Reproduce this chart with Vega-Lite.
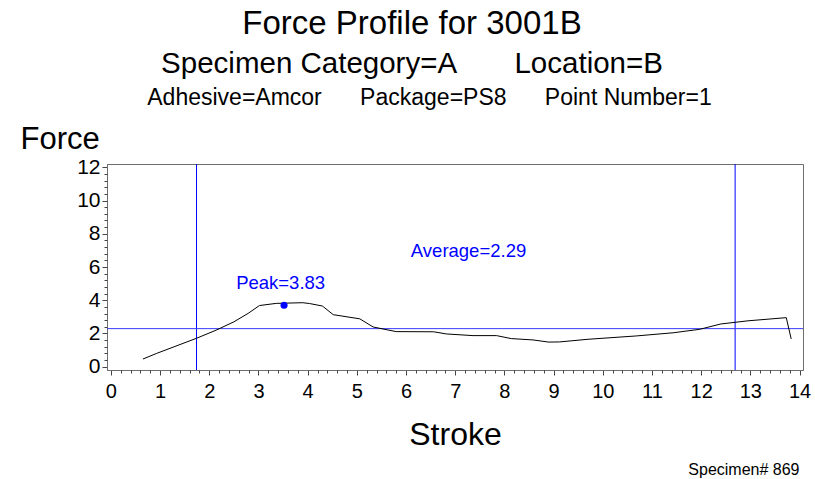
{
  "$schema": "https://vega.github.io/schema/vega-lite/v6.json",
  "width": 696,
  "height": 206,
  "autosize": {"type": "none"},
  "padding": {"left": 107, "top": 164, "right": 12, "bottom": 109},
  "background": "white",
  "config": {
    "font": "Liberation Sans",
    "view": {"stroke": "#6e6e6e", "strokeWidth": 1},
    "axis": {"grid": false, "labelOverlap": false, "labelFlush": false}
  },
  "title": {
    "text": "Force Profile for 3001B",
    "subtitle": "Specimen Category=A\u00a0\u00a0\u00a0\u00a0\u00a0\u00a0\u00a0Location=B",
    "fontSize": 33,
    "fontWeight": "normal",
    "color": "black",
    "subtitleFontSize": 29.5,
    "subtitleColor": "black",
    "subtitlePadding": 9,
    "anchor": "middle",
    "dx": -43,
    "offset": 8
  },
  "datasets": {
    "curve": [
      {"stroke": 0.65, "force": 0.46},
      {"stroke": 0.93, "force": 0.80},
      {"stroke": 1.74, "force": 1.71},
      {"stroke": 2.14, "force": 2.20},
      {"stroke": 2.50, "force": 2.70},
      {"stroke": 2.79, "force": 3.21},
      {"stroke": 3.02, "force": 3.68},
      {"stroke": 3.36, "force": 3.81},
      {"stroke": 3.90, "force": 3.85},
      {"stroke": 4.04, "force": 3.80},
      {"stroke": 4.30, "force": 3.65},
      {"stroke": 4.52, "force": 3.13},
      {"stroke": 5.06, "force": 2.88},
      {"stroke": 5.33, "force": 2.39},
      {"stroke": 5.80, "force": 2.11},
      {"stroke": 6.56, "force": 2.10},
      {"stroke": 6.82, "force": 1.97},
      {"stroke": 7.36, "force": 1.87},
      {"stroke": 7.84, "force": 1.87},
      {"stroke": 8.14, "force": 1.69},
      {"stroke": 8.58, "force": 1.61},
      {"stroke": 8.90, "force": 1.48},
      {"stroke": 9.12, "force": 1.49},
      {"stroke": 9.70, "force": 1.65},
      {"stroke": 10.68, "force": 1.85},
      {"stroke": 11.43, "force": 2.04},
      {"stroke": 11.97, "force": 2.25},
      {"stroke": 12.40, "force": 2.57},
      {"stroke": 12.95, "force": 2.76},
      {"stroke": 13.73, "force": 2.95},
      {"stroke": 13.83, "force": 1.67}
    ],
    "vlines": [{"stroke": 1.74}, {"stroke": 12.69}],
    "hline": [{"force": 2.29}],
    "peak": [{"stroke": 3.52, "force": 3.70}],
    "labels": [
      {"stroke": 3.45, "force": 5.02, "label": "Peak=3.83"},
      {"stroke": 7.27, "force": 6.97, "label": "Average=2.29"}
    ]
  },
  "layer": [
    {
      "layer": [
        {
          "data": {"name": "vlines"},
          "mark": {"type": "rule", "color": "#0000ff", "strokeWidth": 1},
          "encoding": {
            "x": {"field": "stroke", "type": "quantitative"}
          }
        },
        {
          "data": {"name": "hline"},
          "mark": {"type": "rule", "color": "#3a3aff", "strokeWidth": 1},
          "encoding": {
            "y": {"field": "force", "type": "quantitative"}
          }
        },
        {
          "data": {"name": "curve"},
          "mark": {"type": "line", "color": "black", "strokeWidth": 1},
          "encoding": {
            "x": {
              "field": "stroke", "type": "quantitative",
              "scale": {"domain": [-0.08, 14.07], "nice": false, "zero": false},
              "axis": {
                "orient": "bottom",
                "title": "Stroke",
                "titleFontSize": 32,
                "titleFontWeight": "normal",
                "titleColor": "black",
                "titlePadding": 18,
                "values": [0,1,2,3,4,5,6,7,8,9,10,11,12,13,14],
                "labelFontSize": 20,
                "labelColor": "black",
                "labelPadding": 6,
                "labelOverlap": false,
                "tickColor": "#444",
                "tickSize": 5,
                "domainColor": "#6e6e6e"
              }
            },
            "y": {
              "field": "force", "type": "quantitative",
              "scale": {"domain": [-0.2, 12.2], "nice": false, "zero": false},
              "axis": {
                "orient": "left",
                "title": "Force",
                "titleAngle": 0,
                "titleAlign": "left",
                "titleBaseline": "alphabetic",
                "titleX": -87,
                "titleY": -16,
                "titleFontSize": 31,
                "titleFontWeight": "normal",
                "titleColor": "black",
                "values": [0,4,8,12],
                "labelFontSize": 21,
                "labelColor": "black",
                "labelPadding": 2,
                "labelOverlap": false,
                "tickColor": "#444",
                "tickSize": 5,
                "domainColor": "#6e6e6e"
              }
            }
          }
        },
        {
          "data": {"name": "peak"},
          "mark": {"type": "point", "filled": true, "color": "#0000ff", "size": 50, "opacity": 1},
          "encoding": {
            "x": {"field": "stroke", "type": "quantitative"},
            "y": {"field": "force", "type": "quantitative"}
          }
        },
        {
          "data": {"name": "labels"},
          "mark": {"type": "text", "color": "#0000ff", "fontSize": 18.5, "align": "center", "baseline": "middle"},
          "encoding": {
            "x": {"field": "stroke", "type": "quantitative"},
            "y": {"field": "force", "type": "quantitative"},
            "text": {"field": "label", "type": "nominal"}
          }
        }
      ]
    },
    {
      "data": {"name": "curve"},
      "mark": {"type": "point", "opacity": 0},
      "encoding": {
        "x": {
          "field": "stroke", "type": "quantitative",
          "scale": {"domain": [-0.08, 14.07], "nice": false, "zero": false},
          "axis": {
            "orient": "bottom",
            "title": null,
            "values": [0.2,0.4,0.6,0.8,1.2,1.4,1.6,1.8,2.2,2.4,2.6,2.8,3.2,3.4,3.6,3.8,4.2,4.4,4.6,4.8,5.2,5.4,5.6,5.8,6.2,6.4,6.6,6.8,7.2,7.4,7.6,7.8,8.2,8.4,8.6,8.8,9.2,9.4,9.6,9.8,10.2,10.4,10.6,10.8,11.2,11.4,11.6,11.8,12.2,12.4,12.6,12.8,13.2,13.4,13.6,13.8],
            "labels": false,
            "domain": false,
            "tickSize": 3,
            "tickColor": "#444"
          }
        },
        "y": {
          "field": "force", "type": "quantitative",
          "scale": {"domain": [-0.2, 12.2], "nice": false, "zero": false},
          "axis": {
            "orient": "left",
            "title": null,
            "values": [2,6,10],
            "labelFontSize": 21,
            "labelColor": "black",
            "labelPadding": 2,
            "labelOverlap": false,
            "domain": false,
            "tickSize": 5,
            "tickColor": "#444"
          }
        }
      }
    },
    {
      "data": {"name": "curve"},
      "mark": {"type": "point", "opacity": 0},
      "encoding": {
        "x": {
          "field": "stroke", "type": "quantitative",
          "scale": {"domain": [-0.08, 14.07], "nice": false, "zero": false},
          "axis": {
            "orient": "top",
            "title": "Adhesive=Amcor\u00a0\u00a0\u00a0\u00a0\u00a0\u00a0Package=PS8\u00a0\u00a0\u00a0\u00a0\u00a0\u00a0Point Number=1",
            "titleFontSize": 23,
            "titleFontWeight": "normal",
            "titleColor": "black",
            "titleX": 322,
            "titleAlign": "center",
            "titlePadding": 55,
            "labels": false,
            "ticks": false,
            "domain": false
          }
        },
        "y": {
          "field": "force", "type": "quantitative",
          "scale": {"domain": [-0.2, 12.2], "nice": false, "zero": false},
          "axis": {
            "orient": "left",
            "title": null,
            "values": [0.4,0.8,1.2,1.6,2.4,2.8,3.2,3.6,4.4,4.8,5.2,5.6,6.4,6.8,7.2,7.6,8.4,8.8,9.2,9.6,10.4,10.8,11.2,11.6],
            "labels": false,
            "domain": false,
            "tickSize": 3,
            "tickColor": "#444"
          }
        }
      }
    },
    {
      "data": {"name": "curve"},
      "mark": {"type": "point", "opacity": 0},
      "encoding": {
        "x": {
          "field": "stroke", "type": "quantitative",
          "scale": {"domain": [-0.08, 14.07], "nice": false, "zero": false},
          "axis": null
        },
        "y": {
          "field": "force", "type": "quantitative",
          "scale": {"domain": [-0.2, 12.2], "nice": false, "zero": false},
          "axis": {
            "orient": "right",
            "title": "Specimen# 869",
            "titleAngle": 0,
            "titleAlign": "right",
            "titleBaseline": "alphabetic",
            "titleX": -4,
            "titleY": 310,
            "titleFontSize": 16,
            "titleFontWeight": "normal",
            "titleColor": "black",
            "labels": false,
            "ticks": false,
            "domain": false
          }
        }
      }
    }
  ],
  "resolve": {"scale": {"x": "independent", "y": "independent"}, "axis": {"x": "independent", "y": "independent"}}
}
